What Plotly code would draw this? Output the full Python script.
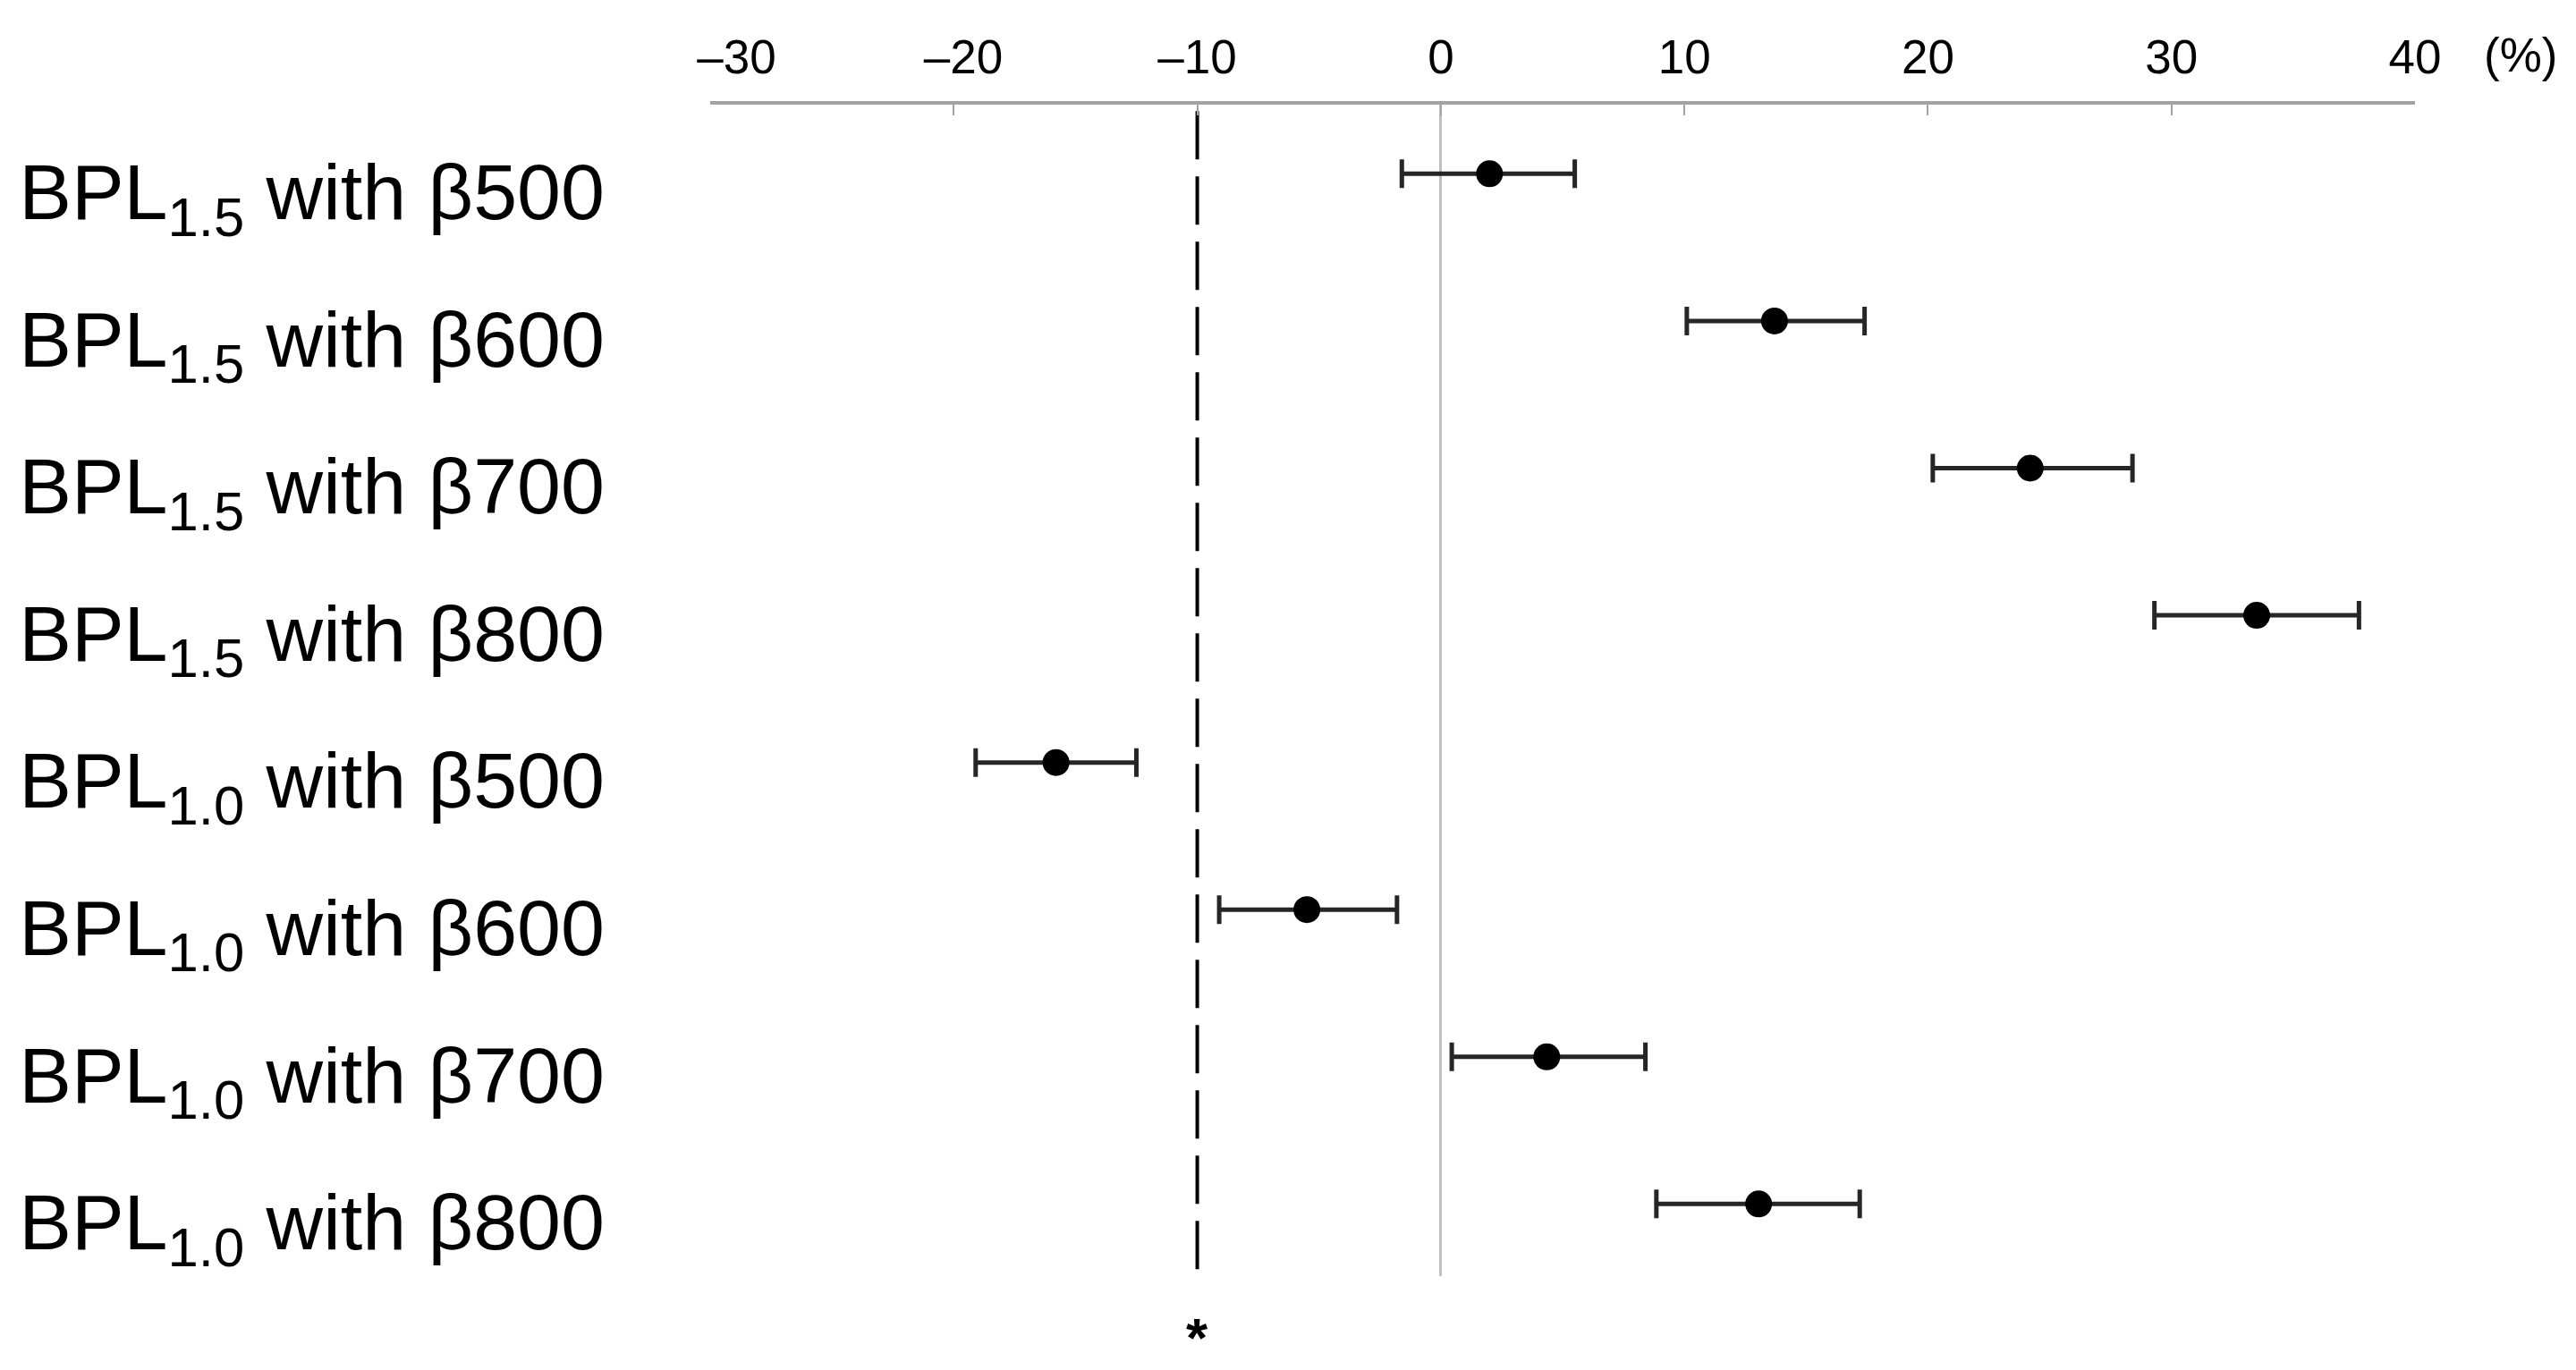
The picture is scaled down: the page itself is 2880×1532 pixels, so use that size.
import plotly.graph_objects as go

# ---- data ----
labels = [
    "BPL<sub>1.5</sub> with β500",
    "BPL<sub>1.5</sub> with β600",
    "BPL<sub>1.5</sub> with β700",
    "BPL<sub>1.5</sub> with β800",
    "BPL<sub>1.0</sub> with β500",
    "BPL<sub>1.0</sub> with β600",
    "BPL<sub>1.0</sub> with β700",
    "BPL<sub>1.0</sub> with β800",
]
estimates = [2.0, 13.7, 24.2, 33.5, -15.8, -5.5, 4.35, 13.05]
lower = [-1.6, 10.1, 20.2, 29.3, -19.1, -9.1, 0.45, 8.85]
upper = [5.5, 17.4, 28.4, 37.7, -12.5, -1.8, 8.4, 17.2]
x_ticks = [-30, -20, -10, 0, 10, 20, 30, 40]
x_tick_text = ["\u2007\u2007–30", "\u2009\u2009–20", "–10", "0", "10", "20", "30", "40"]
threshold = -10

rows = list(range(len(labels)))
err_plus = [u - e for u, e in zip(upper, estimates)]
err_minus = [e - l for e, l in zip(estimates, lower)]

FONT = "Liberation Sans, Arial, sans-serif"

fig = go.Figure()

# threshold dashed line
fig.add_shape(
    type="line", xref="x", yref="paper",
    x0=threshold, x1=threshold, y0=0.006, y1=1,
    line=dict(color="black", width=4, dash="54px,19px"),
    layer="below",
)

fig.add_trace(go.Scatter(
    x=estimates, y=rows, mode="markers",
    marker=dict(color="black", size=30, symbol="circle"),
    error_x=dict(type="data", symmetric=False, array=err_plus, arrayminus=err_minus,
                 color="#262626", thickness=5, width=16),
    showlegend=False, cliponaxis=False,
))

fig.add_annotation(
    text="(%)", xref="paper", yref="paper", x=1, y=1,
    xanchor="left", yanchor="middle", xshift=75, yshift=56,
    showarrow=False, font=dict(family=FONT, size=53, color="black"),
)
fig.add_annotation(
    text="<b>*</b>", xref="x", yref="paper", x=threshold, y=0,
    xanchor="center", yanchor="bottom", yshift=-103,
    borderpad=0, borderwidth=0,
    showarrow=False, font=dict(family=FONT, size=62, color="black"),
)

fig.update_layout(
    width=2880, height=1532,
    margin=dict(l=794, r=180, t=117, b=105, pad=0),
    paper_bgcolor="white", plot_bgcolor="white",
    font=dict(family=FONT, color="black"),
    xaxis=dict(
        range=[-30, 40], side="top",
        tickmode="array", tickvals=x_ticks, ticktext=x_tick_text,
        showgrid=False,
        showline=True, linecolor="#a3a3a3", linewidth=4,
        ticks="inside", ticklen=12, tickwidth=2, tickcolor="#a3a3a3",
        zeroline=True, zerolinecolor="#bfbfbf", zerolinewidth=3,
        tickfont=dict(family=FONT, size=53, color="black"),
        ticklabelstandoff=10,
    ),
    yaxis=dict(
        range=[7.49, -0.47],
        tickmode="array", tickvals=rows, ticktext=labels,
        showgrid=False, zeroline=False, showline=False, ticks="",
        tickfont=dict(family=FONT, size=88, color="black"),
        ticklabelstandoff=117, ticklabelshift=-20,
    ),
)

fig.write_html("out.html", config={"displayModeBar": False},
               post_script="document.body.style.margin='0';document.body.style.overflow='hidden';")
